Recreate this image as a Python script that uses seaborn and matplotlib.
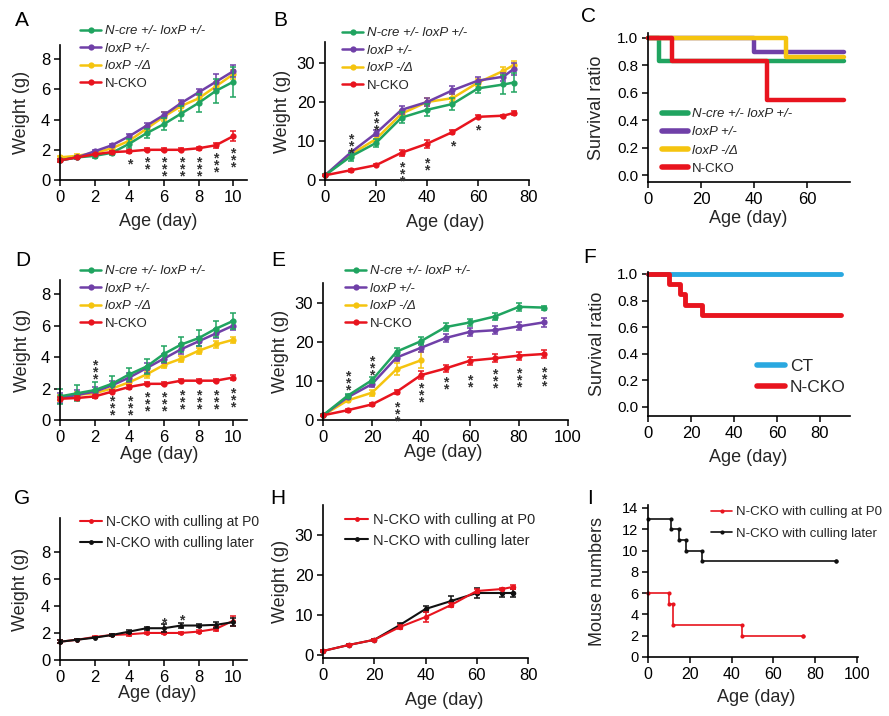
import numpy as np
import pandas as pd
import matplotlib
matplotlib.use("Agg")
import matplotlib.pyplot as plt
from matplotlib.lines import Line2D
import seaborn as sns

# ---------------- data ----------------
GRP_GREEN = "N-cre +/- loxP +/-"
GRP_PURPLE = "loxP +/-"
GRP_YELLOW = "loxP -/\u0394"
GRP_RED = "N-CKO"
GRP_CT = "CT"
GRP_P0 = "N-CKO with culling at P0"
GRP_LATER = "N-CKO with culling later"

# Panel A (day 0-10)
A_days = [0, 1, 2, 3, 4, 5, 6, 7, 8, 9, 10]
A_green = [1.3, 1.5, 1.6, 1.8, 2.4, 3.1, 3.7, 4.4, 5.1, 5.9, 6.5]
A_green_err = [0.1, 0.1, 0.15, 0.15, 0.3, 0.3, 0.4, 0.5, 0.6, 0.8, 1.0]
A_purple = [1.3, 1.5, 1.9, 2.3, 2.9, 3.6, 4.3, 5.1, 5.8, 6.5, 7.2]
A_purple_err = [0.1, 0.1, 0.1, 0.1, 0.15, 0.15, 0.2, 0.2, 0.2, 0.5, 0.4]
A_yellow = [1.5, 1.6, 1.8, 2.1, 2.6, 3.4, 4.2, 4.9, 5.4, 6.2, 7.0]
A_yellow_err = [0.1, 0.1, 0.1, 0.15, 0.2, 0.2, 0.3, 0.3, 0.3, 0.3, 0.3]
A_red = [1.3, 1.5, 1.7, 1.85, 1.9, 2.0, 2.0, 2.0, 2.1, 2.3, 2.9]
A_red_err = [0.1, 0.05, 0.05, 0.1, 0.1, 0.1, 0.1, 0.1, 0.1, 0.15, 0.35]
A_stars = [(4, 1.5, 1), (5, 1.6, 2), (6, 1.6, 3), (7, 1.6, 3), (8, 1.6, 3), (9, 1.9, 3), (10, 2.2, 3)]

# Panel B (day 0-74)
B_days = [0, 10, 20, 30, 40, 50, 60, 70, 74]
B_green = [1.2, 6.0, 9.5, 16.0, 18.0, 19.5, 23.5, 24.5, 25.0]
B_green_err = [0.3, 1.0, 1.0, 1.5, 1.5, 1.5, 1.2, 2.5, 2.5]
B_purple = [1.2, 7.0, 12.0, 18.0, 20.0, 23.0, 25.5, 26.5, 28.5]
B_purple_err = [0.3, 0.5, 0.8, 1.0, 1.0, 1.0, 1.0, 1.0, 1.5]
B_yellow = [1.2, 6.5, 10.5, 17.0, 20.0, 21.0, 25.0, 28.0, 29.5]
B_yellow_err = [0.3, 0.5, 0.8, 1.0, 1.0, 1.0, 1.0, 1.0, 1.0]
B_red = [1.2, 2.5, 3.8, 7.0, 9.3, 12.3, 16.2, 16.5, 17.2]
B_red_err = [0.2, 0.4, 0.3, 0.8, 1.0, 0.5, 0.4, 0.3, 0.4]
B_stars = [(10, 12.3, 3), (20, 18.0, 3), (30, 5.0, 3), (40, 6.0, 2), (50, 10.5, 1), (60, 14.5, 1)]

# Panel C survival (step times / ratios)
C_green_t = [0, 4, 74]
C_green_s = [1.0, 0.833, 0.833]
C_purple_t = [0, 40, 74]
C_purple_s = [1.0, 0.9, 0.9]
C_yellow_t = [0, 52, 74]
C_yellow_s = [1.0, 0.86, 0.86]
C_red_t = [0, 9, 45, 74]
C_red_s = [1.0, 0.833, 0.55, 0.55]

# Panel D (day 0-10)
D_days = [0, 1, 2, 3, 4, 5, 6, 7, 8, 9, 10]
D_green = [1.5, 1.7, 1.9, 2.3, 2.9, 3.4, 4.2, 4.8, 5.2, 5.8, 6.3]
D_green_err = [0.5, 0.5, 0.5, 0.5, 0.4, 0.5, 0.5, 0.5, 0.5, 0.5, 0.5]
D_purple = [1.4, 1.6, 1.8, 2.2, 2.7, 3.3, 3.9, 4.5, 5.0, 5.5, 6.0]
D_purple_err = [0.3, 0.3, 0.3, 0.3, 0.3, 0.3, 0.3, 0.3, 0.3, 0.3, 0.3]
D_yellow = [1.4, 1.6, 1.7, 2.0, 2.4, 2.9, 3.5, 3.9, 4.4, 4.8, 5.1]
D_yellow_err = [0.2, 0.2, 0.2, 0.2, 0.2, 0.2, 0.2, 0.2, 0.2, 0.2, 0.2]
D_red = [1.35, 1.4, 1.5, 1.8, 2.1, 2.3, 2.3, 2.5, 2.5, 2.5, 2.7]
D_red_err = [0.1, 0.1, 0.1, 0.1, 0.1, 0.1, 0.1, 0.1, 0.1, 0.1, 0.15]
D_stars = [(2, 3.9, 3), (3, 1.6, 3), (4, 1.6, 3), (5, 1.9, 3), (6, 1.9, 3), (7, 2.0, 3),
           (8, 2.0, 3), (9, 2.0, 3), (10, 2.15, 3)]

# Panel E (day 0-90)
E_days = [0, 10, 20, 30, 40, 50, 60, 70, 80, 90]
E_yellow_days = [0, 10, 20, 30, 40]
E_green = [1.2, 6.2, 10.2, 17.5, 20.2, 23.8, 25.0, 26.5, 29.0, 28.8]
E_green_err = [0.3, 0.5, 0.8, 1.0, 1.0, 1.0, 1.0, 0.8, 1.0, 0.5]
E_purple = [1.2, 5.8, 9.2, 16.0, 18.5, 21.0, 22.6, 23.0, 24.0, 25.0]
E_purple_err = [0.3, 0.5, 0.8, 1.0, 1.0, 1.0, 1.0, 1.0, 1.0, 1.2]
E_yellow = [1.2, 5.0, 7.0, 13.0, 15.3]
E_yellow_err = [0.3, 0.5, 0.8, 1.5, 2.0]
E_red = [1.2, 2.5, 4.0, 7.2, 11.5, 13.2, 15.2, 15.8, 16.5, 16.9]
E_red_err = [0.2, 0.4, 0.4, 0.6, 1.0, 1.0, 1.0, 1.0, 1.0, 1.0]
E_stars = [(10, 13.0, 3), (20, 16.7, 3), (30, 4.9, 3), (40, 9.8, 3), (50, 11.3, 2), (60, 12.0, 2),
           (70, 13.4, 3), (80, 13.6, 3), (90, 13.9, 3)]

# Panel F survival
F_ct_t = [0, 90]
F_ct_s = [1.0, 1.0]
F_red_t = [0, 10, 15, 17, 25, 90]
F_red_s = [1.0, 0.923, 0.846, 0.769, 0.692, 0.692]

# Panel G (day 0-10)
G_days = [0, 1, 2, 3, 4, 5, 6, 7, 8, 9, 10]
G_p0 = [1.35, 1.5, 1.7, 1.85, 1.9, 2.0, 2.0, 2.0, 2.1, 2.3, 2.9]
G_p0_err = [0.1, 0.05, 0.05, 0.1, 0.1, 0.1, 0.1, 0.1, 0.1, 0.15, 0.35]
G_later = [1.35, 1.5, 1.65, 1.85, 2.1, 2.35, 2.35, 2.55, 2.55, 2.6, 2.8]
G_later_err = [0.1, 0.05, 0.05, 0.05, 0.1, 0.1, 0.3, 0.2, 0.1, 0.2, 0.3]
G_stars = [(6, 3.25, 1), (7, 3.45, 1)]

# Panel H (day 0-74)
H_days = [0, 10, 20, 30, 40, 50, 60, 70, 74]
H_p0 = [1.0, 2.5, 3.8, 7.0, 9.5, 12.5, 16.0, 16.5, 17.0]
H_p0_err = [0.2, 0.3, 0.3, 0.6, 1.2, 0.5, 0.4, 0.3, 0.4]
H_later = [1.0, 2.5, 3.8, 7.5, 11.5, 13.5, 15.5, 15.5, 15.5]
H_later_err = [0.2, 0.3, 0.3, 0.5, 0.8, 1.2, 1.2, 1.0, 1.0]

# Panel I mouse numbers
I_p0_t = [0, 10, 12, 45, 74]
I_p0_n = [6, 5, 3, 2, 2]
I_later_t = [0, 11, 15, 18, 26, 90]
I_later_n = [13, 12, 11, 10, 9, 9]

COLORS = {GRP_GREEN: "#20a460", GRP_PURPLE: "#7040a8", GRP_YELLOW: "#f5c40f",
          GRP_RED: "#e8141e", GRP_CT: "#2aa8e0", GRP_P0: "#e8141e", GRP_LATER: "#111111"}

# ---------------- layout helpers ----------------
sns.set_theme(style="ticks")
plt.rcParams["font.family"] = ["Liberation Sans", "DejaVu Sans"]
W, H = 889, 716
fig = plt.figure(figsize=(W / 100, H / 100), dpi=100)
fig.patch.set_facecolor("white")


def fx(px):
    return px / W


def fy(py):
    return 1 - py / H


def make_ax(l, t, r, b):
    return fig.add_axes([fx(l), fy(b), (r - l) / W, (b - t) / H])


def style(ax, xlim, ylim, xticks, yticks, ylabel, ylab_x, xlab_cx, xlab_cy,
          xfs=12, yfs=12, lfs=13, yfmt=None):
    ax.set_xlim(xlim)
    ax.set_ylim(ylim)
    ax.set_xticks(xticks)
    ax.set_yticks(yticks)
    if yfmt:
        ax.set_yticklabels([yfmt.format(v) for v in yticks])
    sns.despine(ax=ax)
    for s in ("left", "bottom"):
        ax.spines[s].set_linewidth(1.2)
        ax.spines[s].set_color("black")
    ax.tick_params(axis="x", labelsize=xfs, length=4, width=1.1, pad=3, colors="black")
    ax.tick_params(axis="y", labelsize=yfs, length=4, width=1.1, pad=3, colors="black")
    ax.set_xlabel("Age (day)", fontsize=lfs)
    ax.set_ylabel(ylabel, fontsize=lfs)
    ax.xaxis.set_label_coords(fx(xlab_cx), fy(xlab_cy - 9), transform=fig.transFigure)
    pos = ax.get_position()
    ax.yaxis.set_label_coords(fx(ylab_x + 9), pos.y0 + pos.height / 2, transform=fig.transFigure)


def weight_series(ax, x, y, err, name, lw=1.8, ms=4.5):
    df = pd.DataFrame({"day": x, "w": y})
    sns.lineplot(data=df, x="day", y="w", color=COLORS[name], marker="o", markersize=ms,
                 mew=0, linewidth=lw, estimator=None, legend=False, ax=ax, clip_on=False)
    ax.errorbar(x, y, yerr=err, fmt="none", ecolor=COLORS[name], elinewidth=1.1,
                capsize=2.5, capthick=1.1, clip_on=False)


def step_series(ax, t, s, name, lw):
    df = pd.DataFrame({"t": t, "s": s})
    sns.lineplot(data=df, x="t", y="s", color=COLORS[name], drawstyle="steps-post",
                 linewidth=lw, estimator=None, legend=False, ax=ax, clip_on=False)


def add_legend(ax, names, x_px, ytop_px, fs, italic_n=0, lw=1.8, ms=4.5, marker="o",
               hl=1.6, spacing=0.4):
    handles = [Line2D([], [], color=COLORS[n], lw=lw, marker=marker, ms=ms, mew=0) for n in names]
    leg = ax.legend(handles, names, loc="upper left", bbox_to_anchor=(fx(x_px), fy(ytop_px)),
                    bbox_transform=fig.transFigure, frameon=False, fontsize=fs,
                    handlelength=hl, handletextpad=0.3, labelspacing=spacing,
                    borderpad=0, borderaxespad=0)
    for t in leg.get_texts()[:italic_n]:
        t.set_style("italic")
    return leg


def stars(ax, specs, fs=10):
    for x, ytop, n in specs:
        ax.text(x, ytop, "\n".join(["*"] * n), ha="center", va="top", fontsize=fs,
                linespacing=0.36, color="#333333", fontweight="bold")


def letter(txt, x, y):
    fig.text(fx(x), fy(y), txt, ha="center", va="center", fontsize=15, color="black")


legend4 = [GRP_GREEN, GRP_PURPLE, GRP_YELLOW, GRP_RED]

# ---------------- Panel A ----------------
ax = make_ax(60, 45, 247, 180)
weight_series(ax, A_days, A_yellow, A_yellow_err, GRP_YELLOW)
weight_series(ax, A_days, A_purple, A_purple_err, GRP_PURPLE)
weight_series(ax, A_days, A_green, A_green_err, GRP_GREEN)
weight_series(ax, A_days, A_red, A_red_err, GRP_RED)
stars(ax, A_stars)
style(ax, (0, 10.8), (0, 8.94), [0, 2, 4, 6, 8, 10], [0, 2, 4, 6, 8], "Weight (g)", 21, 158, 222)
add_legend(ax, legend4, 80, 25, 9.5, italic_n=3)
letter("A", 22, 20)

# ---------------- Panel B ----------------
ax = make_ax(325, 42, 529, 180)
weight_series(ax, B_days, B_yellow, B_yellow_err, GRP_YELLOW)
weight_series(ax, B_days, B_purple, B_purple_err, GRP_PURPLE)
weight_series(ax, B_days, B_green, B_green_err, GRP_GREEN)
weight_series(ax, B_days, B_red, B_red_err, GRP_RED)
stars(ax, B_stars)
style(ax, (0, 80), (0, 35.4), [0, 20, 40, 60, 80], [0, 10, 20, 30], "Weight (g)", 282, 445, 223)
add_legend(ax, legend4, 342, 27, 9.5, italic_n=3)
letter("B", 280, 20)

# ---------------- Panel C ----------------
ax = make_ax(648, 33, 850, 182)
step_series(ax, C_green_t, C_green_s, GRP_GREEN, 3.2)
step_series(ax, C_purple_t, C_purple_s, GRP_PURPLE, 3.2)
step_series(ax, C_yellow_t, C_yellow_s, GRP_YELLOW, 3.2)
step_series(ax, C_red_t, C_red_s, GRP_RED, 3.2)
style(ax, (0, 76.2), (-0.051, 1.036), [0, 20, 40, 60], [0, 0.2, 0.4, 0.6, 0.8, 1.0],
      "Survival ratio", 596, 748, 219, xfs=12, yfs=11, yfmt="{:.1f}")
add_legend(ax, legend4, 662, 108, 9.5, italic_n=3, lw=4, marker=None, hl=2.0, spacing=0.45)
letter("C", 589, 17)

# ---------------- Panel D ----------------
ax = make_ax(60, 280, 247, 420)
weight_series(ax, D_days, D_yellow, D_yellow_err, GRP_YELLOW)
weight_series(ax, D_days, D_purple, D_purple_err, GRP_PURPLE)
weight_series(ax, D_days, D_green, D_green_err, GRP_GREEN)
weight_series(ax, D_days, D_red, D_red_err, GRP_RED)
stars(ax, D_stars)
style(ax, (0, 10.8), (0, 8.9), [0, 2, 4, 6, 8, 10], [0, 2, 4, 6, 8], "Weight (g)", 22, 159, 455)
add_legend(ax, legend4, 80, 265, 9.5, italic_n=3)
letter("D", 23, 260)

# ---------------- Panel E ----------------
ax = make_ax(323, 283, 568, 420)
weight_series(ax, E_yellow_days, E_yellow, E_yellow_err, GRP_YELLOW)
weight_series(ax, E_days, E_purple, E_purple_err, GRP_PURPLE)
weight_series(ax, E_days, E_green, E_green_err, GRP_GREEN)
weight_series(ax, E_days, E_red, E_red_err, GRP_RED)
stars(ax, E_stars)
style(ax, (0, 100), (0, 35.1), [0, 20, 40, 60, 80, 100], [0, 10, 20, 30], "Weight (g)", 280, 443, 453)
add_legend(ax, legend4, 345, 265, 9.5, italic_n=3)
letter("E", 278, 260)

# ---------------- Panel F ----------------
ax = make_ax(648, 272, 850, 416)
step_series(ax, F_ct_t, F_ct_s, GRP_CT, 3.5)
step_series(ax, F_red_t, F_red_s, GRP_RED, 3.5)
style(ax, (0, 94), (-0.068, 1.015), [0, 20, 40, 60, 80], [0, 0.2, 0.4, 0.6, 0.8, 1.0],
      "Survival ratio", 597, 748, 458, xfs=12, yfs=11, yfmt="{:.1f}")
add_legend(ax, [GRP_CT, GRP_RED], 757, 359, 12.5, lw=4, marker=None, hl=1.6, spacing=0.35)
letter("F", 590, 257)

# ---------------- Panel G ----------------
ax = make_ax(60, 518, 247, 660)
weight_series(ax, G_days, G_p0, G_p0_err, GRP_P0, lw=1.5, ms=3.5)
weight_series(ax, G_days, G_later, G_later_err, GRP_LATER, lw=1.5, ms=3.5)
stars(ax, G_stars)
style(ax, (0, 10.8), (0, 10.5), [0, 2, 4, 6, 8, 10], [0, 2, 4, 6, 8], "Weight (g)", 20, 157, 694)
add_legend(ax, [GRP_P0, GRP_LATER], 80, 515, 10, lw=1.5, ms=3.5, hl=1.6, spacing=0.5)
letter("G", 22, 498)

# ---------------- Panel H ----------------
ax = make_ax(323, 505, 528, 658)
weight_series(ax, H_days, H_later, H_later_err, GRP_LATER, lw=1.5, ms=4)
weight_series(ax, H_days, H_p0, H_p0_err, GRP_P0, lw=1.5, ms=4)
style(ax, (0, 80), (-0.75, 37.5), [0, 20, 40, 60, 80], [0, 10, 20, 30], "Weight (g)", 280, 444, 701)
add_legend(ax, [GRP_P0, GRP_LATER], 345, 513, 10.5, lw=1.5, ms=3.5, hl=1.6, spacing=0.45)
letter("H", 278, 498)

# ---------------- Panel I ----------------
ax = make_ax(648, 505, 858, 657)
for t, n, name in [(I_p0_t, I_p0_n, GRP_P0), (I_later_t, I_later_n, GRP_LATER)]:
    step_series(ax, t, n, name, 1.2)
    corners = pd.DataFrame({"t": list(t[1:]) + list(t), "n": list(n[:-1]) + list(n)})
    sns.scatterplot(data=corners, x="t", y="n", color=COLORS[name], s=9, linewidth=0,
                    legend=False, ax=ax, clip_on=False)
style(ax, (0, 100.5), (0, 14.28), [0, 20, 40, 60, 80, 100], list(range(0, 15, 2)),
      "Mouse numbers", 597, 756, 698, xfs=11.5, yfs=10.5)
add_legend(ax, [GRP_P0, GRP_LATER], 711, 506, 9.5, lw=1.2, ms=3, hl=1.6, spacing=0.7)
letter("I", 590, 498)

fig.savefig("out.png", dpi=100, facecolor="white")
